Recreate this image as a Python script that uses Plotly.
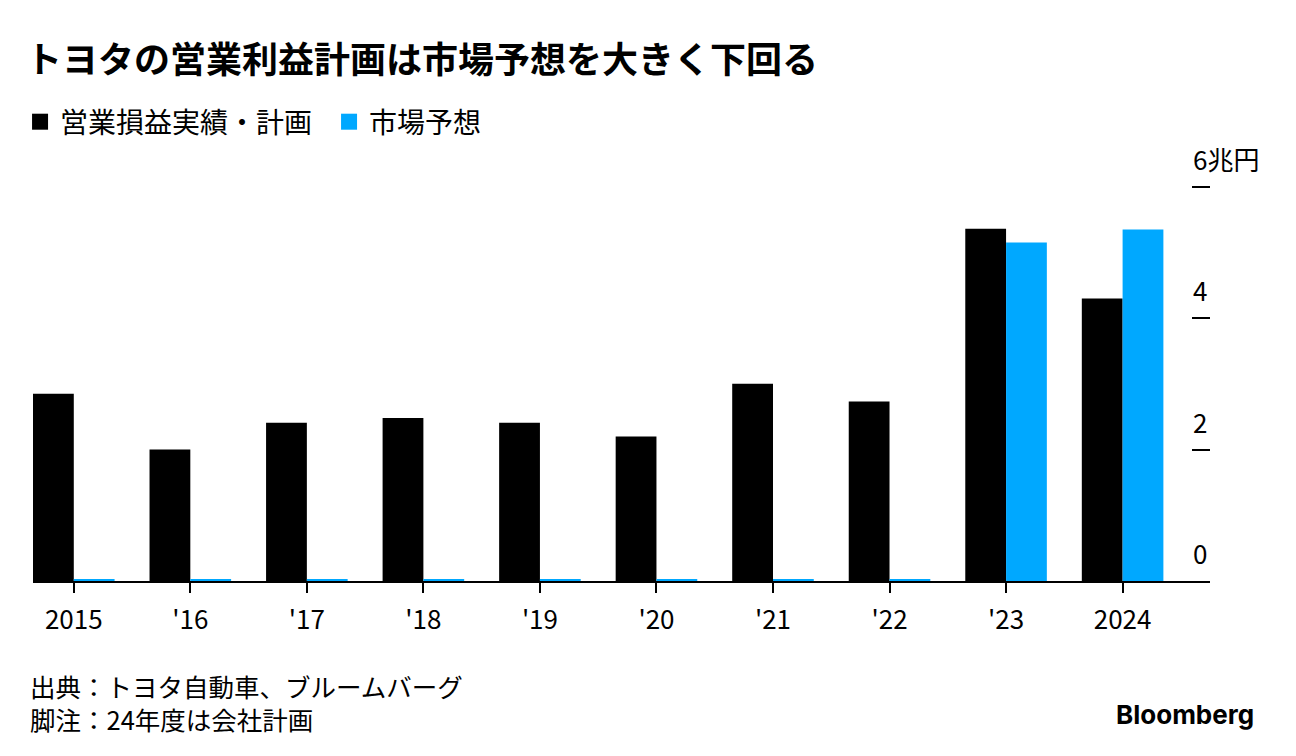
import plotly.graph_objects as go

categories = ["2015", "'16", "'17", "'18", "'19", "'20", "'21", "'22", "'23", "2024"]
actual_plan = [2.85, 2.0, 2.41, 2.48, 2.41, 2.20, 3.0, 2.73, 5.36, 4.3]
market_forecast = [0, 0, 0, 0, 0, 0, 0, 0, 5.15, 5.35]
y_ticks = [0, 2, 4, 6]
y_tick_labels = ["0", "2", "4", "6兆円"]

FONT = "Noto Sans CJK JP"
BLACK = "#000000"
BLUE = "#00a8ff"

W, H = 1280, 740          # page body has an 8px margin
L, R = 20, 1202           # plot area left / right in figure px
T, B = 159, 573           # plot area top / bottom in figure px
PW, PH = R - L, B - T


def px_to_paper_x(px):
    return (px - L) / PW


def px_to_paper_y(py):
    return (B - py) / PH


fig = go.Figure()
fig.add_trace(go.Bar(
    x=categories, y=actual_plan, name="営業損益実績・計画",
    marker=dict(color=BLACK, line=dict(width=0)), showlegend=False,
))
fig.add_trace(go.Bar(
    x=categories, y=market_forecast, name="市場予想",
    marker=dict(color=BLUE,
                line=dict(color=BLUE, width=[4 if v == 0 else 0 for v in market_forecast])),
    cliponaxis=False, showlegend=False,
))
# legend entries with square swatches
for name, col in [("営業損益実績・計画", BLACK), ("市場予想", BLUE)]:
    fig.add_trace(go.Scatter(
        x=[None], y=[None], mode="markers", name=name,
        marker=dict(symbol="square", size=18, color=col),
    ))

fig.update_layout(
    width=W, height=H,
    margin=dict(l=L, r=W - R, t=T, b=H - B),
    paper_bgcolor="white", plot_bgcolor="white",
    font=dict(family=FONT, color="#000000", size=24),
    barmode="group", bargap=0.3, bargroupgap=0,
    title=dict(text="<b>トヨタの営業利益計画は市場予想を大きく下回る</b>",
               x=18 / W, xref="container", xanchor="left", y=1 - 52 / H,
               yanchor="middle", font=dict(size=36, family=FONT)),
    legend=dict(orientation="h", x=-0.011, xanchor="left", y=px_to_paper_y(114),
                yanchor="middle", font=dict(size=28), itemclick=False,
                traceorder="normal", itemwidth=30, entrywidth=264,
                entrywidthmode="pixels"),
    showlegend=True,
    xaxis=dict(range=[-0.35, 9.75], showline=True, linecolor=BLACK, linewidth=1.5,
               ticks="outside", ticklen=10, tickwidth=1.5, tickcolor=BLACK,
               tickfont=dict(size=26), showgrid=False, ticklabelstandoff=5,
               fixedrange=True),
    yaxis=dict(range=[0, 6.3], side="right", showticklabels=False,
               ticks="inside", ticklen=18, tickwidth=1.5, tickcolor=BLACK,
               tickvals=y_ticks, showgrid=False, zeroline=False, showline=False,
               fixedrange=True),
)

for v, t in zip(y_ticks, y_tick_labels):
    fig.add_annotation(x=px_to_paper_x(1183), xref="paper", y=v, yref="y",
                       text=t, showarrow=False, xanchor="left", yanchor="bottom",
                       yshift=8, font=dict(size=26), align="left")

fig.add_annotation(x=px_to_paper_x(15), xref="paper", y=px_to_paper_y(677), yref="paper",
                   xanchor="left", yanchor="middle", showarrow=False,
                   text="出典：トヨタ自動車、ブルームバーグ", font=dict(size=25.5))
fig.add_annotation(x=px_to_paper_x(15), xref="paper", y=px_to_paper_y(710), yref="paper",
                   xanchor="left", yanchor="middle", showarrow=False,
                   text="脚注：24年度は会社計画", font=dict(size=25.5))
fig.add_annotation(x=px_to_paper_x(1248), xref="paper", y=px_to_paper_y(706), yref="paper",
                   xanchor="right", yanchor="middle", showarrow=False,
                   text="<b>Bloomberg</b>", font=dict(size=26, family="Inter"))

fig.write_html("out.html")
